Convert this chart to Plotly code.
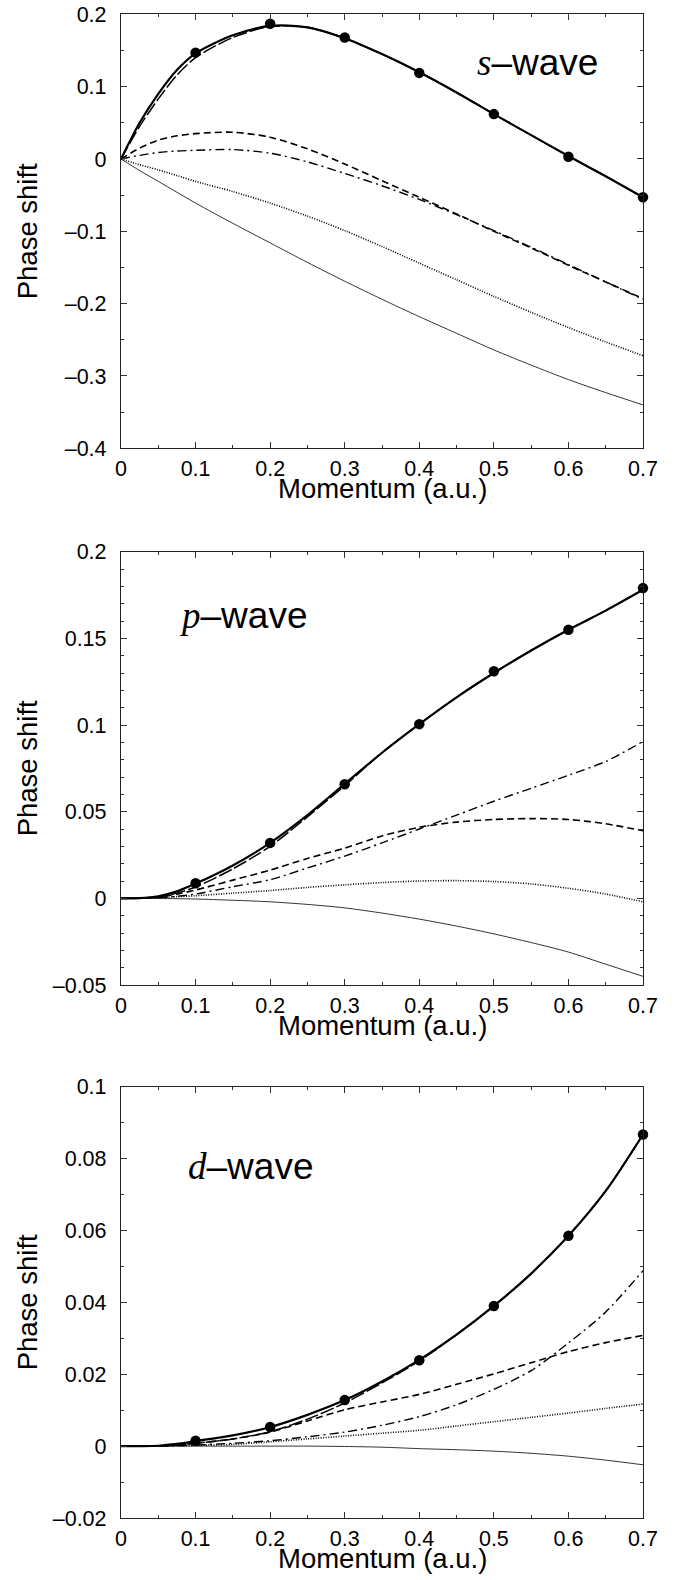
import plotly.graph_objects as go

# ---------------- data ----------------
k = [0, 0.025, 0.05, 0.075, 0.1, 0.15, 0.2, 0.25, 0.3, 0.35, 0.4, 0.45, 0.5, 0.55, 0.6, 0.65, 0.7]
k_pts = [0.1, 0.2, 0.3, 0.4, 0.5, 0.6, 0.7]

# s-wave
s_full = [0, 0.050, 0.090, 0.123, 0.146, 0.171, 0.184, 0.182, 0.167, 0.145, 0.120, 0.092, 0.062, 0.033, 0.004, -0.024, -0.053]
s_long = [0, 0.045, 0.083, 0.116, 0.140, 0.168, 0.183, 0.182, 0.167, 0.145, 0.120, 0.092, 0.062, 0.033, 0.004, -0.024, -0.053]
s_dash = [0, 0.015, 0.026, 0.032, 0.035, 0.037, 0.030, 0.014, -0.007, -0.030, -0.053, -0.076, -0.100, -0.123, -0.147, -0.170, -0.193]
s_dashdot = [0, 0.005, 0.009, 0.011, 0.012, 0.013, 0.008, -0.004, -0.020, -0.037, -0.056, -0.077, -0.099, -0.122, -0.146, -0.170, -0.194]
s_dot = [0, -0.008, -0.015, -0.023, -0.031, -0.045, -0.061, -0.079, -0.099, -0.121, -0.144, -0.167, -0.190, -0.212, -0.233, -0.253, -0.272]
s_thin = [0, -0.016, -0.031, -0.046, -0.061, -0.089, -0.116, -0.143, -0.169, -0.194, -0.218, -0.241, -0.264, -0.285, -0.305, -0.323, -0.340]
s_pts = [0.147, 0.187, 0.168, 0.119, 0.062, 0.003, -0.053]

# p-wave
p_full = [0, 0.0001, 0.0012, 0.0040, 0.0085, 0.019, 0.032, 0.048, 0.066, 0.084, 0.1005, 0.116, 0.130, 0.143, 0.155, 0.166, 0.178]
p_long = [0, 0.0001, 0.0008, 0.0030, 0.0065, 0.017, 0.030, 0.047, 0.065, 0.084, 0.1005, 0.116, 0.130, 0.143, 0.155, 0.166, 0.178]
p_dash = [0, 0.0001, 0.0008, 0.0024, 0.0048, 0.0105, 0.0163, 0.023, 0.029, 0.036, 0.041, 0.044, 0.0455, 0.046, 0.0455, 0.043, 0.039]
p_dashdot = [0, 0.0001, 0.0005, 0.0012, 0.0025, 0.0067, 0.0108, 0.0175, 0.0244, 0.032, 0.040, 0.048, 0.056, 0.0635, 0.071, 0.079, 0.0905]
p_dot = [0, 0.0001, 0.0004, 0.0009, 0.0015, 0.003, 0.0045, 0.0063, 0.0078, 0.0091, 0.0100, 0.0102, 0.0097, 0.0083, 0.0058, 0.0025, -0.002]
p_thin = [0, 0, -0.0001, -0.0002, -0.0004, -0.0011, -0.002, -0.0035, -0.0055, -0.0085, -0.012, -0.016, -0.0205, -0.0255, -0.031, -0.038, -0.045]
p_pts = [0.0087, 0.032, 0.0658, 0.1005, 0.131, 0.155, 0.179]

# d-wave
d_full = [0, 0, 0.0001, 0.0006, 0.0014, 0.003, 0.0053, 0.0087, 0.0128, 0.018, 0.024, 0.031, 0.039, 0.048, 0.0585, 0.071, 0.0867]
d_long = [0, 0, 0.0001, 0.0003, 0.0008, 0.002, 0.0040, 0.0075, 0.0120, 0.0176, 0.0237, 0.031, 0.039, 0.048, 0.0585, 0.071, 0.0867]
d_dash = [0, 0, 0.0001, 0.0003, 0.0008, 0.0020, 0.0039, 0.0070, 0.0101, 0.0123, 0.0144, 0.0172, 0.0201, 0.0232, 0.0263, 0.0288, 0.0308]
d_dashdot = [0, 0, 0, 0.0001, 0.0003, 0.0008, 0.0015, 0.0026, 0.0039, 0.0058, 0.0082, 0.0115, 0.0158, 0.021, 0.0287, 0.0373, 0.0488]
d_dot = [0, 0, 0, 0.0001, 0.0002, 0.0005, 0.0012, 0.0020, 0.0028, 0.0036, 0.0044, 0.0056, 0.0068, 0.0080, 0.0092, 0.0105, 0.0117]
d_thin = [0, 0, 0, 0, 0, 0, 0, 0, -0.0001, -0.0003, -0.0007, -0.001, -0.0014, -0.002, -0.0028, -0.0039, -0.0052]
d_pts = [0.0015, 0.0053, 0.0128, 0.0239, 0.039, 0.0585, 0.0867]

x_tickvals = [0, 0.1, 0.2, 0.3, 0.4, 0.5, 0.6, 0.7]
x_ticktext = ["0", "0.1", "0.2", "0.3", "0.4", "0.5", "0.6", "0.7"]
s_tickvals = [0.2, 0.1, 0, -0.1, -0.2, -0.3, -0.4]
s_ticktext = ["0.2", "0.1", "0", "\u20130.1", "\u20130.2", "\u20130.3", "\u20130.4"]
p_tickvals = [0.2, 0.15, 0.1, 0.05, 0, -0.05]
p_ticktext = ["0.2", "0.15", "0.1", "0.05", "0", "\u20130.05"]
d_tickvals = [0.1, 0.08, 0.06, 0.04, 0.02, 0, -0.02]
d_ticktext = ["0.1", "0.08", "0.06", "0.04", "0.02", "0", "\u20130.02"]

x_title = "Momentum (a.u.)"
y_title = "Phase shift"

panels = [
    dict(full=s_full, long=s_long, dash=s_dash, dashdot=s_dashdot, dot=s_dot, thin=s_thin, pts=s_pts,
         yr=[-0.4, 0.2], tv=s_tickvals, tt=s_ticktext, minor=0.05, label="s", lx=0.475, ly=0.134),
    dict(full=p_full, long=p_long, dash=p_dash, dashdot=p_dashdot, dot=p_dot, thin=p_thin, pts=p_pts,
         yr=[-0.05, 0.2], tv=p_tickvals, tt=p_ticktext, minor=0.01, label="p", lx=0.075, ly=0.163),
    dict(full=d_full, long=d_long, dash=d_dash, dashdot=d_dashdot, dot=d_dot, thin=d_thin, pts=d_pts,
         yr=[-0.02, 0.1], tv=d_tickvals, tt=d_ticktext, minor=0.01, label="d", lx=0.087, ly=0.0777),
]

# ---------------- layout geometry ----------------
W, H = 678, 1580
ML, MR, MT, MB = 121, 35, 14, 62
ph = H - MT - MB
tops = [14.3, 551.7, 1086.7]
bots = [448.3, 985.0, 1518.0]

def dom(top, bot):
    a = (H - MB - bot) / ph
    b = (H - MB - top) / ph
    return [max(0.0, min(1.0, a)), max(0.0, min(1.0, b))]

SANS = "Liberation Sans, Arial, Helvetica, sans-serif"
SERIF = "Liberation Serif, Times New Roman, serif"

fig = go.Figure()
layout = dict(
    width=W, height=H,
    margin=dict(l=ML, r=MR, t=MT, b=MB, autoexpand=False),
    paper_bgcolor="white", plot_bgcolor="white",
    showlegend=False,
    font=dict(family=SANS, color="black"),
    annotations=[],
)

styles = [
    ("thin", dict(color="black", width=0.8, dash="solid")),
    ("dot", dict(color="black", width=1.6, dash="1px,1.5px")),
    ("dashdot", dict(color="black", width=1.4, dash="9px,4px,2px,4px")),
    ("dash", dict(color="black", width=1.6, dash="7px,4px")),
    ("long", dict(color="black", width=1.5, dash="14px,3px")),
    ("full", dict(color="black", width=2.2, dash="solid")),
]

for i, p in enumerate(panels):
    n = "" if i == 0 else str(i + 1)
    xa = "x" + n
    ya = "y" + n
    for key, ln in styles:
        fig.add_trace(go.Scatter(x=k, y=p[key], mode="lines", line=dict(shape="spline", smoothing=0.8, **ln),
                                 xaxis=xa, yaxis=ya, hoverinfo="skip", cliponaxis=True))
    fig.add_trace(go.Scatter(x=k_pts, y=p["pts"], mode="markers",
                             marker=dict(symbol="circle", size=10.5, color="black"),
                             xaxis=xa, yaxis=ya, hoverinfo="skip", cliponaxis=False))

    common_axis = dict(
        showline=True, linecolor="#222", linewidth=1.3, mirror="ticks",
        ticks="inside", ticklen=6, tickwidth=1.1, tickcolor="#333",
        showgrid=False, zeroline=False,
        tickfont=dict(family=SANS, size=21.5, color="black"),
    )
    layout["xaxis" + n] = dict(
        common_axis, domain=[0, 1], anchor=ya, range=[0, 0.7],
        tickmode="array", tickvals=x_tickvals, ticktext=x_ticktext,
        minor=dict(tickmode="linear", tick0=0, dtick=0.05, ticks="inside", ticklen=3, tickwidth=1, tickcolor="#333"),
        ticklabelstandoff=1,
    )
    layout["yaxis" + n] = dict(
        common_axis, domain=dom(tops[i], bots[i]), anchor=xa, range=p["yr"],
        tickmode="array", tickvals=p["tv"], ticktext=p["tt"],
        minor=dict(tickmode="linear", tick0=0, dtick=p["minor"], ticks="inside", ticklen=3, tickwidth=1, tickcolor="#333"),
        ticklabelstandoff=9,
    )
    # panel label
    layout["annotations"].append(dict(
        x=p["lx"], y=p["ly"], xref=xa, yref=ya, xanchor="left", yanchor="middle", showarrow=False,
        text=f"<span style=\"font-family:{SERIF};font-style:italic\">{p['label']}</span>\u2013wave",
        font=dict(family=SANS, size=37, color="black"),
    ))
    # axis titles
    layout["annotations"].append(dict(
        x=0.5, y=0, xref=f"{xa} domain", yref=f"{ya} domain", xanchor="center", yanchor="middle",
        yshift=-40, showarrow=False, text=x_title,
        font=dict(family=SANS, size=27.5, color="black"),
    ))
    layout["annotations"].append(dict(
        x=0, y=0.5, xref=f"{xa} domain", yref=f"{ya} domain", xanchor="center", yanchor="middle",
        xshift=-94, showarrow=False, text=y_title, textangle=-90,
        font=dict(family=SANS, size=27.5, color="black"),
    ))

fig.update_layout(**layout)
fig.write_html("out.html")
